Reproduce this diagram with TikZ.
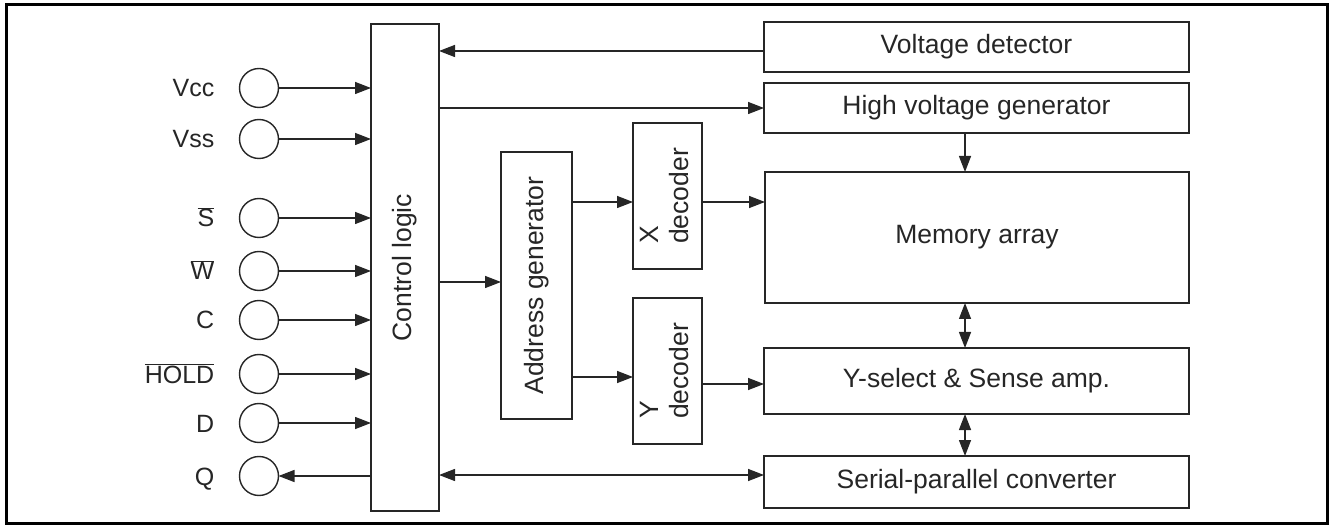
\documentclass[tikz,border=0pt]{standalone}
\usepackage{fontspec}
\setmainfont{Liberation Sans}
\usetikzlibrary{arrows.meta}
\definecolor{ink}{HTML}{262626}
\begin{document}
\begin{tikzpicture}[x=1pt,y=-1pt,
  line width=1.4pt, draw=ink, text=ink,
  blk/.style={draw=ink, line width=1.4pt, inner sep=0pt, outer sep=0pt, font=\fontsize{26.5}{30}\selectfont, align=center},
  pin/.style={draw=ink, line width=1.4pt, circle, minimum size=39pt, inner sep=0pt, outer sep=0pt},
  pinlbl/.style={anchor=base east, inner sep=0pt, font=\fontsize{25}{28}\selectfont},
  arr/.style={draw=ink, line width=1.4pt, -{Triangle[length=16pt,width=12pt]}},
  darr/.style={draw=ink, line width=1.4pt, {Triangle[length=16pt,width=12pt]}-{Triangle[length=16pt,width=12pt]}}
]
\useasboundingbox (0,0) rectangle (1330,526);
\draw[draw=black, line width=3pt] (6,5) rectangle (1327,523);

% blocks
\node[blk, minimum width=68pt, minimum height=487pt] (ctrl) at (405,267.5) {\rotatebox{90}{Control logic}};
\node[blk, minimum width=425pt, minimum height=50pt] (vd) at (976.5,47) {Voltage detector};
\node[blk, minimum width=425pt, minimum height=50pt] (hvg) at (976.5,108) {High voltage generator};
\node[blk, minimum width=424pt, minimum height=131pt] (mem) at (977,237.5) {Memory array};
\node[blk, minimum width=425pt, minimum height=66pt] (ysel) at (976.5,381) {Y-select \& Sense amp.};
\node[blk, minimum width=425pt, minimum height=52pt] (spc) at (976.5,482) {Serial-parallel converter};
\node[blk, minimum width=71pt, minimum height=267pt] (addr) at (536.5,285.5) {\rotatebox{90}{Address generator}};
\node[blk, minimum width=69pt, minimum height=146pt] (xdec) at (667.5,196) {\rotatebox{90}{\begin{tabular}{@{}l@{}}X\\decoder\end{tabular}}};
\node[blk, minimum width=69pt, minimum height=146pt] (ydec) at (667.5,371) {\rotatebox{90}{\begin{tabular}{@{}l@{}}Y\\decoder\end{tabular}}};

% pins
\foreach \n/\y in {1/88,2/139,3/218,4/271,5/320,6/374,7/423,8/476}{
  \node[pin] (p\n) at (259,\y) {};
}
\node[pinlbl] (l1) at (215,97) {Vcc};
\node[pinlbl] (l2) at (215,148) {Vss};
\node[pinlbl] (l3) at (215,227) {$\overline{\mbox{S}}$};
\node[pinlbl] (l4) at (215,280) {$\overline{\mbox{W}}$};
\node[pinlbl] (l5) at (215,329) {C};
\node[pinlbl] (l6) at (215,383) {$\overline{\mbox{HOLD}}$};
\node[pinlbl] (l7) at (215,432) {D};
\node[pinlbl] (l8) at (215,485) {Q};

\foreach \n in {1,...,7}{
  \draw[arr] (p\n.east) -- (p\n.east -| ctrl.west);
}
\draw[arr] (p8.east -| ctrl.west) -- (p8.east);

% helper levels
\coordinate (yvd) at (0,51);
\coordinate (yhv) at (0,108);
\coordinate (yag) at (0,282);
\coordinate (yx) at (0,202);
\coordinate (yy1) at (0,377);
\coordinate (yy2) at (0,384);
\coordinate (ysp) at (0,475);
\coordinate (xv) at (965,0);

\draw[arr] (vd.west |- yvd) -- (ctrl.east |- yvd);
\draw[arr] (ctrl.east |- yhv) -- (hvg.west |- yhv);
\draw[arr] (ctrl.east |- yag) -- (addr.west |- yag);
\draw[arr] (addr.east |- yx) -- (xdec.west |- yx);
\draw[arr] (xdec.east |- yx) -- (mem.west |- yx);
\draw[arr] (addr.east |- yy1) -- (ydec.west |- yy1);
\draw[arr] (ydec.east |- yy2) -- (ysel.west |- yy2);
\draw[darr] (ctrl.east |- ysp) -- (spc.west |- ysp);
\draw[arr] (hvg.south -| xv) -- (mem.north -| xv);
\draw[darr] (mem.south -| xv) -- (ysel.north -| xv);
\draw[darr] (ysel.south -| xv) -- (spc.north -| xv);
\end{tikzpicture}
\end{document}
